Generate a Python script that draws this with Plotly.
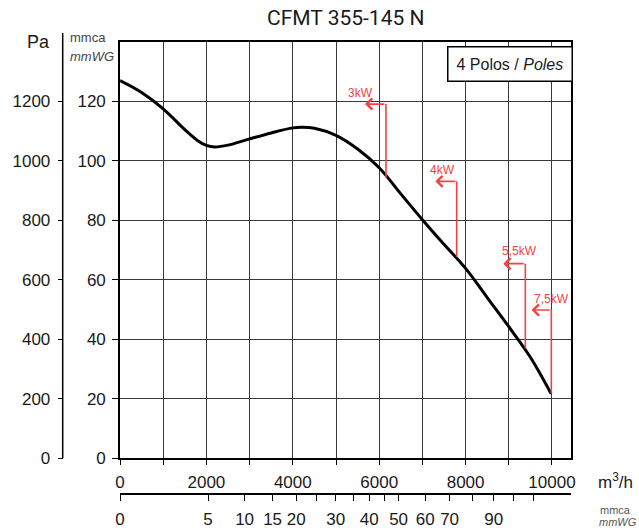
import plotly.graph_objects as go
import math

# ---------------- data ----------------
flow = [0, 500, 1000, 1500, 1800, 2000, 2200, 2500, 3000, 3500, 4000, 4200, 4500,
        5000, 5500, 6000, 6500, 7000, 7500, 8000, 8500, 9000, 9500, 9980]
press_mmca = [127, 123, 117.5, 110.5, 106.8, 105.2, 104.7, 105.3, 107.4, 109.4, 111.1, 111.3, 111.0,
              108.6, 104.0, 97.7, 88.9, 80.2, 71.9, 63.8, 54.0, 44.2, 33.9, 21.6]

motor_labels = ["3kW", "4kW", "5,5kW", "7,5kW"]
motor_q = [6157, 7794, 9382, 9984]          # vertical line position
motor_bottom = [94.3, 67.7, 36.9, 21.8]     # on curve
motor_top = [119.1, 93.1, 65.4, 49.8]       # arrow level
motor_tip = [5671, 7299, 8872, 9528]        # arrow tip
motor_label_q = [5572, 7472, 9252, 9993]
motor_label_p = [123.0, 96.8, 69.8, 53.5]

x_ticks = list(range(0, 10001, 1000))
x_labels = [str(v) if v % 2000 == 0 else "" for v in x_ticks]
y_ticks = list(range(0, 121, 20))
pa_ticks = list(range(0, 1201, 200))
dyn_ticks = [0, 5, 10, 15, 20, 25, 30, 35, 40, 45, 50, 60, 70, 80, 90, 100, 110]
dyn_labeled = [0, 5, 10, 15, 20, 30, 40, 50, 60, 70, 90]
dyn_k = 912.0  # m3/h per sqrt(mmca)

title = "CFMT 355-145 N"
legend_text = "4 Polos / <i>Poles</i>"

# ---------------- layout helpers ----------------
W, H = 639, 531
ML, MR, MT, MB = 10, 10, 10, 10
PW, PH = W - ML - MR, H - MT - MB


def px(x):
    return (x - ML) / PW


def py(y):
    return (H - MB - y) / PH


RED = "#f04444"
FONT = "Liberation Sans, Arial, sans-serif"
TXT = "#1a1a1a"

fig = go.Figure()

fig.add_trace(go.Scatter(x=flow, y=press_mmca, mode="lines",
                         line=dict(color="black", width=3, shape="spline", smoothing=1.0),
                         hoverinfo="skip", showlegend=False))

# motor power markers: vertical segments
for q, b, t in zip(motor_q, motor_bottom, motor_top):
    fig.add_trace(go.Scatter(x=[q, q], y=[b, t], mode="lines",
                             line=dict(color=RED, width=1.6),
                             hoverinfo="skip", showlegend=False))

# dummy traces so secondary axes are drawn
fig.add_trace(go.Scatter(x=[None], y=[None], xaxis="x", yaxis="y2", showlegend=False))
fig.add_trace(go.Scatter(x=[None], y=[None], xaxis="x2", yaxis="y", showlegend=False))

annotations = []
for lab, q, t, tip, lq, lp in zip(motor_labels, motor_q, motor_top, motor_tip,
                                  motor_label_q, motor_label_p):
    annotations.append(dict(x=tip, y=t, ax=q, ay=t, axref="x", ayref="y",
                            xref="x", yref="y", text="", showarrow=True,
                            arrowhead=4, arrowsize=1.35, arrowwidth=1.6,
                            arrowcolor=RED, standoff=0, startstandoff=0))
    annotations.append(dict(x=lq, y=lp, xref="x", yref="y", text=lab, showarrow=False,
                            font=dict(family=FONT, size=12, color=RED),
                            xanchor="center", yanchor="middle"))

annotations += [
    dict(x=px(345), y=py(18), xref="paper", yref="paper", text=title, showarrow=False,
         font=dict(family="Roboto, sans-serif", size=21, color=TXT), xanchor="center", yanchor="middle"),
    dict(x=px(509.5), y=py(64.5), xref="paper", yref="paper", text=legend_text, showarrow=False,
         font=dict(family=FONT, size=16, color=TXT), xanchor="center", yanchor="middle",
         bordercolor="black", borderwidth=1.5, borderpad=8, bgcolor="white"),
    dict(x=px(52), y=py(42), xref="paper", yref="paper", text="Pa", showarrow=False,
         font=dict(family=FONT, size=18, color=TXT), xanchor="right", yanchor="middle"),
    dict(x=px(68), y=py(37.5), xref="paper", yref="paper", text="mmca", showarrow=False,
         font=dict(family=FONT, size=13, color="#444"), xanchor="left", yanchor="middle"),
    dict(x=px(68), y=py(56), xref="paper", yref="paper", text="<i>mmWG</i>", showarrow=False,
         font=dict(family=FONT, size=13, color="#444"), xanchor="left", yanchor="middle"),
    dict(x=px(596), y=py(481), xref="paper", yref="paper", text="m<sup>3</sup>/h", showarrow=False,
         font=dict(family=FONT, size=17, color=TXT), xanchor="left", yanchor="middle"),
    dict(x=px(598), y=py(510), xref="paper", yref="paper", text="mmca", showarrow=False,
         font=dict(family=FONT, size=11, color="#555"), xanchor="left", yanchor="middle"),
    dict(x=px(597), y=py(522), xref="paper", yref="paper", text="<i>mmWG</i>", showarrow=False,
         font=dict(family=FONT, size=11, color="#555"), xanchor="left", yanchor="middle"),
]

xdom = [px(120), px(571)]
ydom = [py(458), py(42)]
xr = [0, 10440]

shapes = [
    dict(type="line", xref="paper", yref="paper", x0=px(62.7), x1=px(62.7),
         y0=py(458), y1=py(33), line=dict(color="black", width=1.5)),
]

fig.update_layout(
    width=W, height=H,
    margin=dict(l=ML, r=MR, t=MT, b=MB, autoexpand=False),
    paper_bgcolor="white", plot_bgcolor="white",
    showlegend=False,
    font=dict(family=FONT, size=17, color=TXT),
    xaxis=dict(domain=xdom, range=xr, tickvals=x_ticks, ticktext=x_labels,
               showgrid=True, gridcolor="#3a3a3a", gridwidth=1.2, automargin=False,
               showline=True, linecolor="black", linewidth=1.6, mirror=True,
               ticks="outside", ticklen=5, tickwidth=1.2, tickcolor="black",
               ticklabelstandoff=3, zeroline=False, anchor="y",
               tickfont=dict(family=FONT, size=17, color=TXT)),
    yaxis=dict(domain=ydom, range=[0, 140], tickvals=y_ticks, automargin=False,
               showgrid=True, gridcolor="#3a3a3a", gridwidth=1.2,
               showline=True, linecolor="black", linewidth=1.6, mirror=True,
               ticks="outside", ticklen=6, tickwidth=1.2, tickcolor="black",
               ticklabelstandoff=3, zeroline=False, anchor="x",
               tickfont=dict(family=FONT, size=17, color=TXT)),
    yaxis2=dict(overlaying="y", anchor="free", position=px(62.7), side="left",
                range=[0, 1400], tickvals=pa_ticks, showgrid=False, zeroline=False,
                automargin=False,
                showline=False, ticks="outside", ticklen=5, tickwidth=1.2, tickcolor="black",
                ticklabelstandoff=4, tickfont=dict(family=FONT, size=17, color=TXT)),
    xaxis2=dict(overlaying="x", anchor="free", position=py(494), side="bottom",
                range=xr, tickvals=[dyn_k * math.sqrt(v) for v in dyn_ticks],
                ticktext=[str(v) if v in dyn_labeled else "" for v in dyn_ticks],
                showgrid=False, zeroline=False, showline=True, linecolor="black", linewidth=1.5,
                automargin=False,
                ticks="outside", ticklen=6, tickwidth=1.2, tickcolor="black",
                ticklabelstandoff=4, tickfont=dict(family=FONT, size=17, color=TXT)),
    annotations=annotations,
    shapes=shapes,
)

fig.write_html("out.html", config={"displayModeBar": False},
               post_script="document.body.style.margin='0';document.body.style.padding='0';")
